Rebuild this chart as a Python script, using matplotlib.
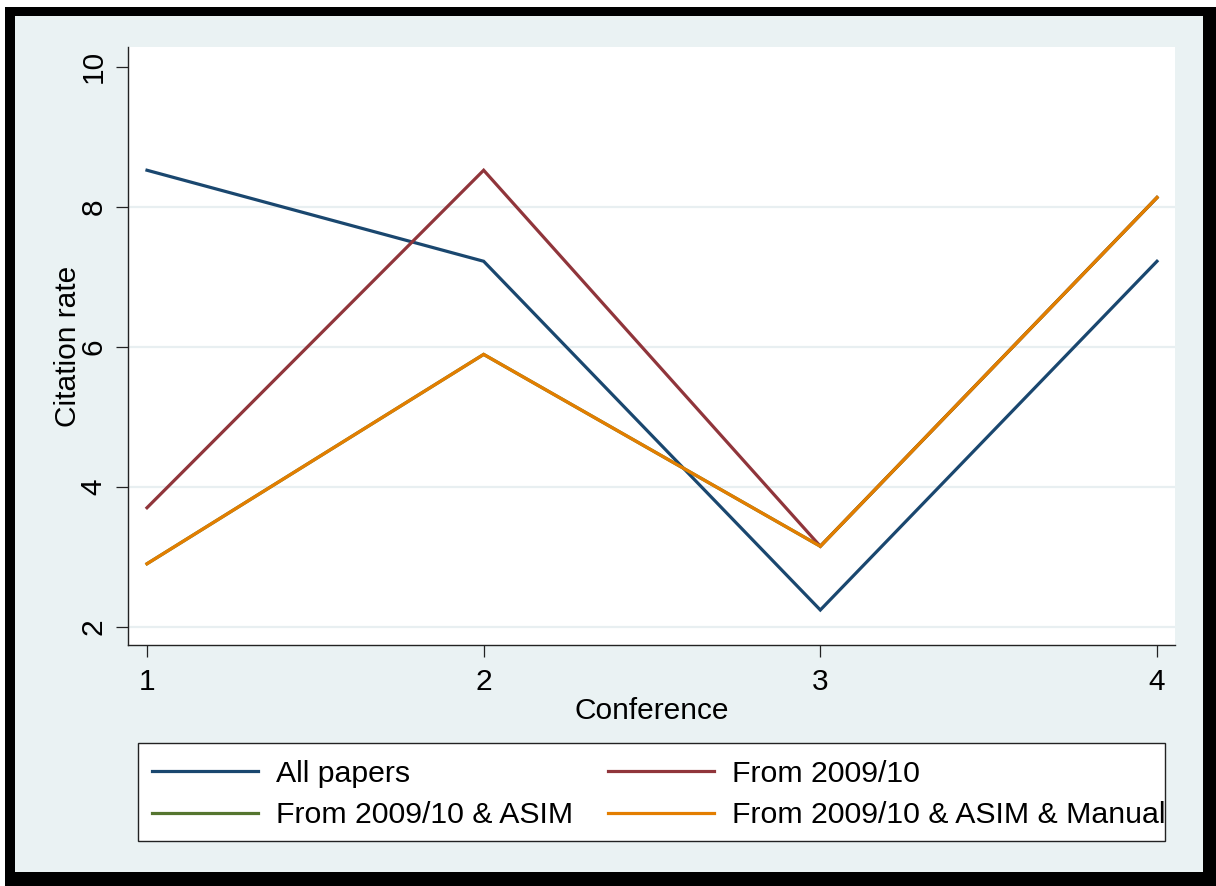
import matplotlib
matplotlib.use("Agg")
import matplotlib.pyplot as plt
from matplotlib.patches import Rectangle

plt.rcParams['font.family'] = ['Liberation Sans', 'DejaVu Sans']

# citation rate per conference for each paper subset
conference = [1, 2, 3, 4]
all_papers = [8.52, 7.22, 2.24, 7.22]
from_2009 = [3.70, 8.52, 3.15, 8.13]
from_2009_asim = [2.90, 5.89, 3.15, 8.13]
from_2009_asim_manual = [2.90, 5.89, 3.15, 8.13]

series_labels = ["All papers", "From 2009/10",
                 "From 2009/10 & ASIM", "From 2009/10 & ASIM & Manual"]
series_colors = ["#1a476f", "#90353b", "#55752f", "#e37e00"]
y_ticks = [2, 4, 6, 8, 10]
x_ticks = [1, 2, 3, 4]

W, H = 1216, 886
FS = 21.5
fig = plt.figure(figsize=(W / 100, H / 100), dpi=100)
fig.patch.set_facecolor("white")


def px_rect(left, top, right, bottom, **kw):
    return Rectangle((left / W, 1 - bottom / H), (right - left) / W, (bottom - top) / H,
                     transform=fig.transFigure, **kw)


# thick black frame around the light graph region, then the legend box
fig.patches.append(px_rect(5, 7, W, H, facecolor="black", edgecolor="none", zorder=-10))
fig.patches.append(px_rect(15, 16, 1203, 872, facecolor="#eaf2f3", edgecolor="none", zorder=-9))
fig.patches.append(px_rect(138, 743, 1165, 841, facecolor="white", edgecolor="#222222",
                           linewidth=1.0, zorder=-8))

ax = fig.add_axes([128 / W, 1 - 645 / H, (1175 - 128) / W, (645 - 47) / H])
ax.set_facecolor("white")

series = [all_papers, from_2009, from_2009_asim, from_2009_asim_manual]
lines = []
for vals, lab, col in zip(series, series_labels, series_colors):
    ln, = ax.plot(conference, vals, color=col, lw=2.3, label=lab,
                  solid_joinstyle="miter")
    lines.append(ln)

ax.set_xlim(0.9436, 4.0535)
ax.set_ylim(1.74, 10.28)
ax.set_xticks(x_ticks)
ax.set_yticks(y_ticks)
for y in y_ticks[:-1]:
    ax.axhline(y, color="#e8eff1", lw=1.6, zorder=0)

for s in ["top", "right"]:
    ax.spines[s].set_visible(False)
for s in ["left", "bottom"]:
    ax.spines[s].set_linewidth(1.0)
    ax.spines[s].set_color("#222222")

ax.tick_params(axis="both", length=8.5, width=0.9, color="#222222",
               labelsize=FS, pad=6)
ax.tick_params(axis="x", pad=8)
for lbl in ax.get_yticklabels():
    lbl.set_rotation(90)
    lbl.set_va("center")

ax.set_xlabel("Conference", fontsize=FS, labelpad=1)
ax.set_ylabel("Citation rate", fontsize=FS, labelpad=-1.5)

# legend rows read left to right: reorder for column-major filling
order = [0, 2, 1, 3]
fig.legend([lines[i] for i in order], [series_labels[i] for i in order],
           loc="upper left", bbox_to_anchor=(152 / W, 1 - 759.5 / H),
           ncol=2, fontsize=21.8, frameon=False,
           handlelength=3.5, handletextpad=0.6, borderaxespad=0,
           borderpad=0, labelspacing=0.45, columnspacing=1.15)

fig.savefig("out.png", dpi=100)
